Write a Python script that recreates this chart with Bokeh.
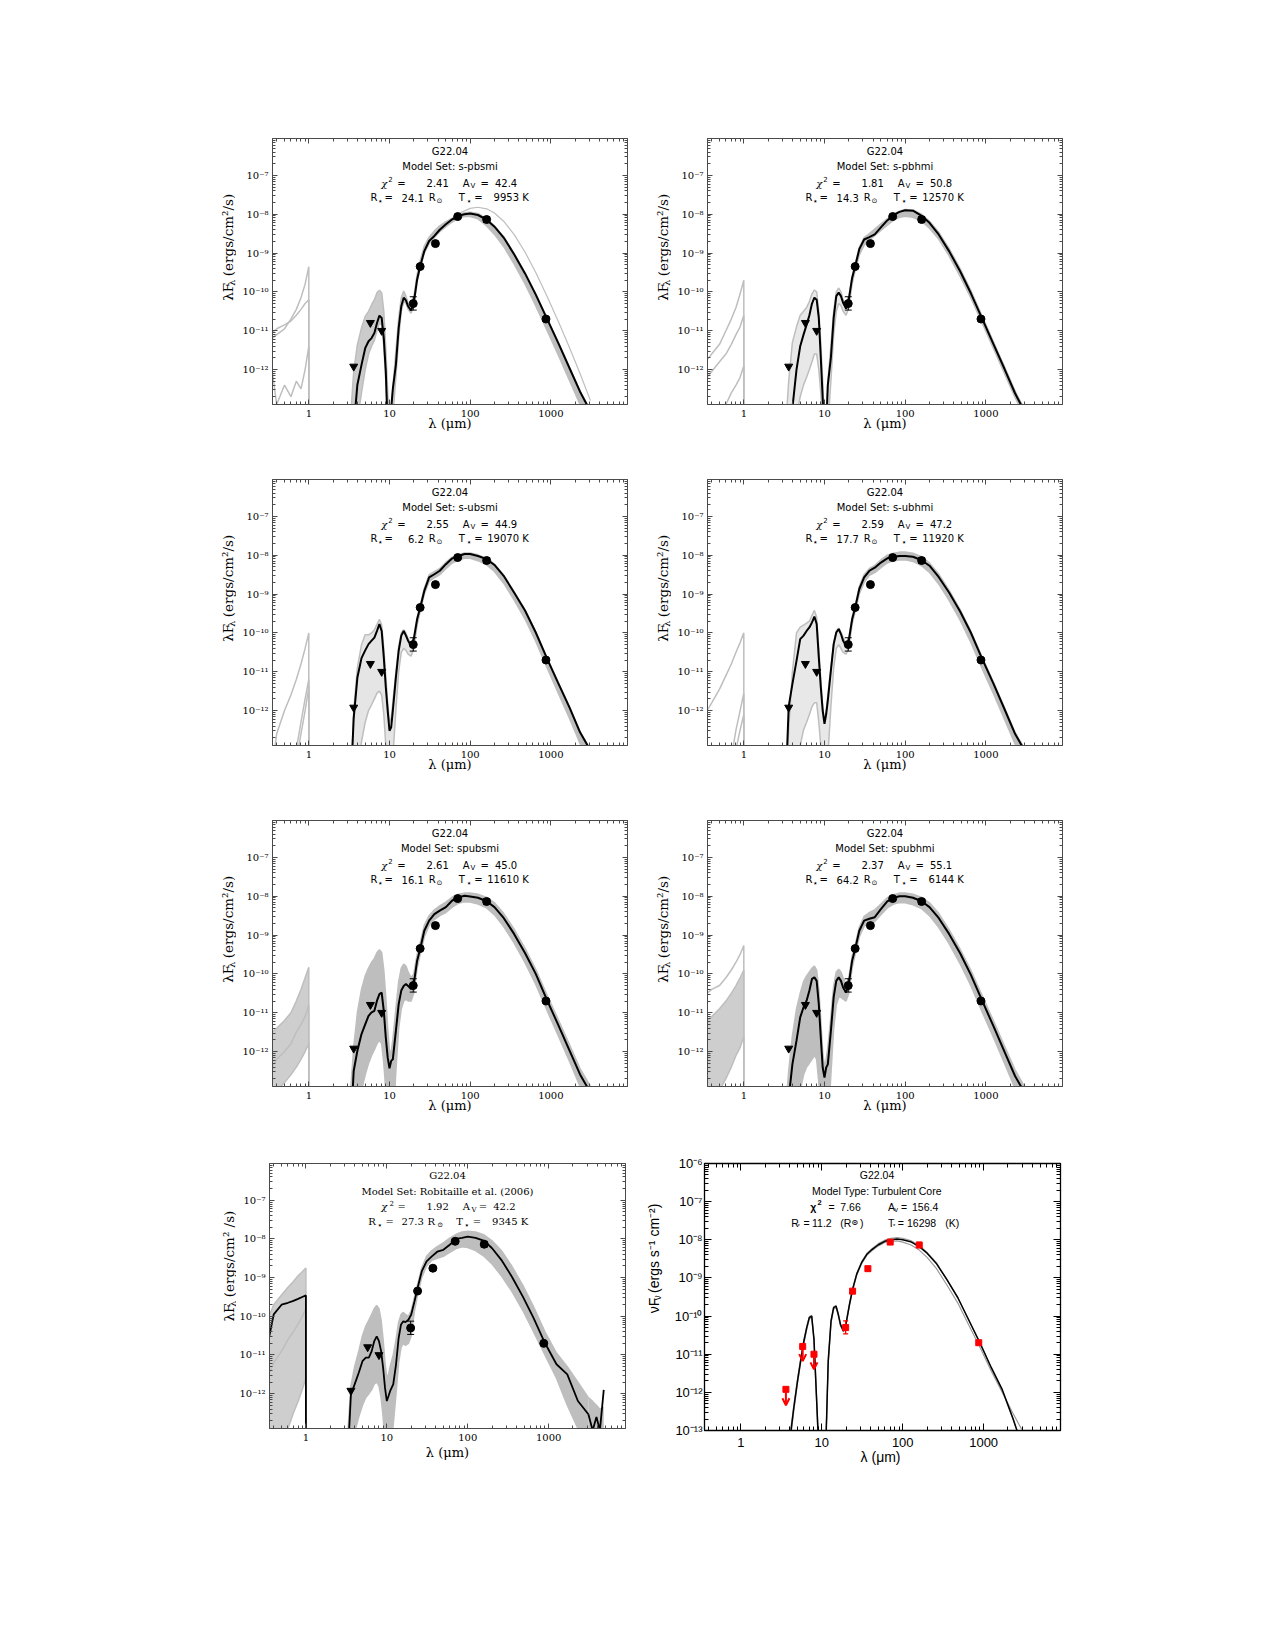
import math
from bokeh.plotting import figure
from bokeh.models import (Range1d, FixedTicker, CustomJSTickFormatter, LogAxis, Label,
                          ColumnDataSource, Arrow, OpenHead, Spacer)
from bokeh.layouts import row, column
from bokeh.embed import file_html
from bokeh.resources import INLINE

# ---------------- data (wavelengths in micron, fluxes as log10 lambda F_lambda) --------------
LAM = [3.3, 3.6, 4.0, 4.5, 5.0, 5.5, 6.0, 6.5, 7.0, 7.5, 8.0, 8.5, 9.0, 9.5, 10.0, 10.5, 11.0,
       12.0, 13.0, 14.0, 15.0, 16.0, 17.0, 18.5, 20.0, 22.0, 24.0, 27.0, 31.0, 36.0, 42.0, 50.0,
       60.0, 72.0, 85.0, 100.0, 125.0, 160.0, 200.0, 260.0, 350.0, 480.0, 650.0, 900.0, 1250.0,
       1700.0, 2300.0, 3100.0]
LAM_UV = [0.35, 0.4, 0.5, 0.6, 0.7, 0.8, 0.9, 1.0, 1.0]
LAM_FIR = [50, 72, 100, 125, 160, 200, 260, 350, 480, 650, 900, 1250, 1700, 2300, 3100]
LAM_TAIL = [3100, 3500, 3900, 4300, 4800]

UL_WAV = [3.6, 5.8, 8.0]
UL_FLUX = [1.2e-12, 1.6e-11, 1.0e-11]
UL_ARROW_TO = [4.6e-13, 6.6e-12, 4.0e-12]
DET_WAV = [19.7, 24.0, 37.1, 70.0, 160.0, 870.0]
DET_FLUX = [5.0e-11, 4.5e-10, 1.75e-9, 8.7e-9, 7.3e-9, 2.0e-11]
DET_LO = [3.4e-11, 4.1e-10, 1.55e-9, 8.0e-9, 6.2e-9, 1.8e-11]
DET_HI = [7.5e-11, 4.9e-10, 1.95e-9, 9.4e-9, 8.6e-9, 2.2e-11]

# panel 1 : s-pbsmi
P1_BEST = [-14, -13.5, -12.39, -11.88, -11.45, -11.27, -11.19, -11.06, -10.8, -10.61,
           -10.67, -11.19, -12.05, -13.5, -13.8, -13.0, -12.5, -11.88, -10.93, -10.37,
           -10.15, -10.22, -10.37, -10.48, -10.28, -9.68, -9.34, -8.95, -8.69, -8.56,
           -8.4, -8.26, -8.13, -8.04, -8.0, -7.98, -8.02, -8.14, -8.32, -8.6,
           -9.03, -9.53, -10.07, -10.7, -11.34, -11.96, -12.57, -13.08]
P1_HI = [-13.2, -12.05, -11.36, -10.93, -10.63, -10.5, -10.33, -10.2, -10.02, -9.96,
         -10.02, -10.5, -11.45, -12.56, -13.5, -13.0, -12.48, -11.53, -10.67, -10.15,
         -9.98, -10.11, -10.28, -10.41, -10.15, -9.55, -9.2, -8.82, -8.59, -8.43,
         -8.3, -8.19, -8.1, -8.02, -7.96, -7.95, -7.98, -8.12, -8.3, -8.58,
         -9.01, -9.51, -10.05, -10.68, -11.32, -11.94, -12.55, -13.06]
P1_LO = [-14, -14, -13.3, -12.6, -12.0, -11.6, -11.4, -11.25, -11.0, -10.8,
         -10.85, -11.4, -12.3, -13.5, -14, -14, -13.2, -12.2, -11.2, -10.5,
         -10.25, -10.3, -10.45, -10.55, -10.35, -9.75, -9.4, -9.0, -8.75, -8.6,
         -8.45, -8.32, -8.2, -8.1, -8.06, -8.06, -8.12, -8.3, -8.52, -8.83,
         -9.28, -9.8, -10.36, -11.0, -11.65, -12.28, -12.9, -13.4]
P1_EXTRA = [-8.22, -7.98, -7.85, -7.82, -7.86, -7.97, -8.18, -8.52, -8.98, -9.5, -10.12,
            -10.78, -11.43, -12.1, -12.8]
P1_UV_A = [-11.2, -11.1, -10.95, -10.7, -10.45, -10.15, -9.8, -9.35, -14]
P1_UV_B = [-11.05, -10.95, -10.85, -10.75, -10.6, -10.45, -10.3, -10.2, -14]
P1_UV_C = [-12.0, -12.9, -12.4, -12.7, -12.3, -12.5, -12.0, -11.4, -14]

# panel 2 : s-pbhmi
P2_BEST = [-14, -14, -13.0, -12.0, -11.4, -11.1, -10.85, -10.6, -10.3, -10.15,
           -10.2, -10.67, -11.7, -12.74, -13.8, -13.5, -12.4, -11.7, -10.67, -10.11,
           -10.02, -10.11, -10.28, -10.43, -10.2, -9.64, -9.34, -8.9, -8.65, -8.59,
           -8.52, -8.34, -8.16, -8.02, -7.94, -7.9, -7.91, -8.04, -8.22, -8.52,
           -8.95, -9.47, -10.03, -10.69, -11.36, -11.98, -12.61, -13.13]
P2_HI = [-13.5, -12.3, -11.3, -10.9, -10.6, -10.5, -10.4, -10.25, -10.05, -9.95,
         -10.0, -10.5, -11.3, -12.3, -13.5, -13.2, -12.3, -11.4, -10.5, -10.0,
         -9.9, -10.0, -10.2, -10.35, -10.15, -9.6, -9.28, -8.85, -8.6, -8.5,
         -8.38, -8.25, -8.12, -8.0, -7.92, -7.88, -7.89, -8.0, -8.18, -8.46,
         -8.88, -9.4, -9.96, -10.62, -11.3, -11.92, -12.55, -13.07]
P2_LO = [-14, -14, -13.8, -13.2, -12.7, -12.4, -12.2, -12.0, -11.8, -11.6,
         -11.6, -12.0, -12.6, -13.5, -14, -14, -13.5, -12.3, -11.1, -10.5,
         -10.3, -10.35, -10.5, -10.6, -10.4, -9.8, -9.45, -9.05, -8.8, -8.66,
         -8.55, -8.42, -8.28, -8.15, -8.08, -8.05, -8.08, -8.18, -8.36, -8.64,
         -9.07, -9.6, -10.15, -10.8, -11.47, -12.1, -12.72, -13.25]
P2_UV_A = [-11.75, -11.6, -11.35, -11.0, -10.7, -10.4, -10.05, -9.7, -14]
P2_UV_B = [-12.2, -12.05, -11.8, -11.6, -11.35, -11.1, -10.9, -10.6, -14]
P2_UV_C = [-14, -13.5, -13.0, -12.9, -12.6, -12.4, -12.2, -11.9, -14]

# panel 3 : s-ubsmi
P3_BEST = [-14, -12.2, -11.15, -10.65, -10.45, -10.29, -10.2, -10.12, -9.95, -9.77,
           -9.95, -10.63, -11.4, -12.0, -12.52, -12.43, -12.0, -11.15, -10.46, -10.07,
           -9.95, -10.07, -10.2, -10.33, -10.16, -9.65, -9.35, -8.92, -8.57, -8.49,
           -8.4, -8.23, -8.08, -8.02, -7.97, -7.97, -8.02, -8.1, -8.25, -8.53,
           -8.96, -9.43, -9.99, -10.67, -11.32, -11.92, -12.56, -13.03]
P3_HI = [-14, -12.0, -10.9, -10.3, -10.05, -10.05, -10.0, -9.92, -9.78, -9.65,
         -9.8, -10.4, -11.1, -11.8, -12.3, -12.2, -11.8, -11.0, -10.35, -10.0,
         -9.92, -10.0, -10.15, -10.28, -10.12, -9.6, -9.3, -8.85, -8.5, -8.42,
         -8.34, -8.18, -8.05, -7.98, -7.94, -7.94, -7.99, -8.08, -8.23, -8.51,
         -8.94, -9.41, -9.97, -10.65, -11.3, -11.9, -12.54, -13.01]
P3_LO = [-14, -14, -13.5, -12.8, -12.3, -12.0, -11.85, -11.7, -11.55, -11.5,
         -11.6, -12.1, -12.9, -13.5, -14, -14, -13.2, -12.0, -11.0, -10.5,
         -10.4, -10.45, -10.55, -10.6, -10.4, -9.8, -9.45, -9.0, -8.68, -8.58,
         -8.5, -8.35, -8.2, -8.12, -8.08, -8.08, -8.14, -8.25, -8.42, -8.72,
         -9.15, -9.65, -10.22, -10.9, -11.58, -12.2, -12.85, -13.35]
P3_UV_A = [-13.5, -12.6, -12.0, -11.6, -11.2, -10.8, -10.4, -10.0, -14]
P3_UV_B = [-14, -14, -14, -14, -13.0, -12.3, -11.7, -11.2, -14]
P3_UV_C = [-14, -14, -14, -14, -13.3, -12.6, -12.0, -11.4, -14]

# panel 4 : s-ubhmi
P4_BEST = [-14, -11.9, -11.32, -10.72, -10.16, -10.07, -9.95, -9.86, -9.73, -9.58,
           -9.77, -10.63, -11.4, -12.0, -12.34, -12.09, -11.74, -10.97, -10.29, -9.99,
           -9.9, -10.03, -10.2, -10.33, -10.2, -9.65, -9.35, -8.87, -8.57, -8.4,
           -8.32, -8.19, -8.08, -8.04, -8.02, -8.02, -8.04, -8.13, -8.27, -8.56,
           -8.96, -9.45, -9.99, -10.67, -11.32, -11.96, -12.6, -13.07]
P4_HI = [-14, -12.5, -11.0, -10.0, -9.85, -9.8, -9.75, -9.7, -9.55, -9.42,
         -9.6, -10.4, -11.2, -11.9, -12.3, -12.0, -11.6, -10.9, -10.25, -9.95,
         -9.88, -9.98, -10.12, -10.25, -10.12, -9.6, -9.3, -8.8, -8.5, -8.34,
         -8.26, -8.12, -8.0, -7.95, -7.92, -7.92, -7.95, -8.04, -8.2, -8.48,
         -8.9, -9.4, -9.95, -10.62, -11.28, -11.92, -12.56, -13.02]
P4_LO = [-14, -14, -14, -13.4, -12.9, -12.5, -12.3, -12.1, -11.9, -11.8,
         -11.8, -12.3, -12.9, -13.5, -14, -14, -13.2, -11.9, -10.9, -10.4,
         -10.3, -10.4, -10.5, -10.55, -10.38, -9.78, -9.45, -9.0, -8.7, -8.52,
         -8.45, -8.32, -8.2, -8.14, -8.12, -8.12, -8.16, -8.27, -8.44, -8.74,
         -9.16, -9.67, -10.24, -10.92, -11.58, -12.22, -12.86, -13.35]
P4_UV_A = [-12.0, -11.8, -11.45, -11.1, -10.8, -10.5, -10.25, -10.0, -14]
P4_UV_B = [-14, -14, -14, -14, -13.2, -12.5, -12.0, -11.55, -14]
P4_UV_C = [-14, -14, -14, -14, -13.6, -13.0, -12.5, -12.1, -14]

# panel 5 : spubsmi
P5_BEST = [-14, -12.5, -11.98, -11.55, -11.3, -11.08, -10.99, -10.95, -10.69, -10.52,
           -10.48, -10.95, -11.64, -12.15, -12.43, -12.24, -12.2, -11.47, -10.78, -10.43,
           -10.31, -10.26, -10.31, -10.39, -10.26, -9.66, -9.36, -8.89, -8.63, -8.46,
           -8.37, -8.28, -8.11, -8.03, -7.99, -8.01, -8.04, -8.13, -8.28, -8.56,
           -8.97, -9.47, -10.0, -10.68, -11.34, -11.97, -12.59, -13.06]
P5_HI = [-13.0, -11.9, -11.0, -10.4, -10.05, -9.85, -9.7, -9.6, -9.45, -9.38,
         -9.45, -9.9, -10.6, -11.4, -12.0, -12.0, -11.7, -10.9, -10.2, -9.85,
         -9.75, -9.8, -9.95, -10.1, -10.0, -9.5, -9.2, -8.75, -8.5, -8.35,
         -8.25, -8.15, -8.02, -7.95, -7.92, -7.92, -7.95, -8.03, -8.17, -8.44,
         -8.85, -9.35, -9.88, -10.55, -11.2, -11.82, -12.44, -12.9]
P5_LO = [-14, -14, -13.6, -13.0, -12.6, -12.3, -12.1, -11.95, -11.8, -11.7,
         -11.8, -12.3, -13.0, -14, -14, -14, -14, -12.5, -11.4, -10.9,
         -10.7, -10.65, -10.7, -10.7, -10.5, -9.85, -9.5, -9.05, -8.75, -8.6,
         -8.5, -8.42, -8.28, -8.18, -8.14, -8.15, -8.2, -8.3, -8.48, -8.78,
         -9.2, -9.72, -10.27, -10.95, -11.62, -12.25, -12.9, -13.4]
P5_UV_A = [-11.5, -11.4, -11.2, -11.0, -10.7, -10.4, -10.1, -9.83, -14]
P5_UV_B = [-12.4, -12.2, -12.0, -11.8, -11.5, -11.3, -11.1, -10.8, -14]
P5_UV_C = [-13.2, -13.0, -12.8, -12.6, -12.4, -12.2, -12.0, -11.8, -14]

# panel 6 : spubhmi
P6_BEST = [-14, -13.2, -12.33, -11.72, -11.12, -10.86, -10.69, -10.43, -10.13, -10.09,
           -10.18, -10.78, -11.64, -12.41, -12.67, -12.41, -12.33, -11.47, -10.6, -10.18,
           -10.09, -10.18, -10.35, -10.48, -10.26, -9.66, -9.36, -8.89, -8.63, -8.58,
           -8.54, -8.33, -8.13, -8.04, -8.0, -8.0, -8.04, -8.13, -8.28, -8.56,
           -8.97, -9.47, -10.02, -10.69, -11.36, -12.0, -12.63, -13.1]
P6_HI = [-13.5, -12.5, -11.6, -10.9, -10.5, -10.2, -10.05, -9.95, -9.85, -9.8,
         -9.9, -10.4, -11.2, -12.0, -12.4, -12.2, -11.9, -11.1, -10.3, -9.95,
         -9.88, -9.95, -10.1, -10.25, -10.1, -9.55, -9.25, -8.8, -8.52, -8.42,
         -8.35, -8.2, -8.04, -7.96, -7.92, -7.92, -7.95, -8.03, -8.17, -8.44,
         -8.86, -9.36, -9.9, -10.56, -11.22, -11.85, -12.47, -12.95]
P6_LO = [-14, -14, -14, -13.5, -13.0, -12.6, -12.4, -12.3, -12.2, -12.1,
         -12.2, -12.8, -13.5, -14, -14, -14, -14, -12.6, -11.4, -10.8,
         -10.6, -10.6, -10.65, -10.7, -10.5, -9.85, -9.5, -9.05, -8.77, -8.7,
         -8.65, -8.48, -8.3, -8.2, -8.16, -8.17, -8.22, -8.32, -8.5, -8.8,
         -9.22, -9.74, -10.3, -10.98, -11.65, -12.3, -12.95, -13.45]
P6_UV_A = [-10.5, -10.4, -10.3, -10.1, -9.9, -9.7, -9.5, -9.27, -14]
P6_UV_B = [-11.2, -11.1, -10.9, -10.7, -10.5, -10.3, -10.1, -9.9, -14]
P6_UV_C = [-14, -13.5, -13.0, -12.7, -12.4, -12.1, -11.9, -11.6, -14]

# panel 7 : Robitaille et al. (2006)
P7_BEST = [-13.6, -12.02, -11.76, -11.46, -11.16, -11.07, -11.07, -10.9, -10.64, -10.52,
           -10.64, -10.9, -11.33, -11.85, -12.19, -12.06, -11.93, -11.76, -11.24, -10.56,
           -10.21, -10.13, -10.15, -10.09, -9.96, -9.61, -9.27, -8.84, -8.58, -8.45,
           -8.33, -8.28, -8.15, -8.0, -7.97, -7.94, -7.97, -8.05, -8.24, -8.54,
           -8.97, -9.49, -10.04, -10.69, -11.24, -11.5, -12.19, -12.53]
P7_HI = [-13.0, -11.8, -11.3, -10.9, -10.5, -10.25, -10.1, -9.95, -9.8, -9.72,
         -9.8, -10.1, -10.6, -11.2, -11.6, -11.5, -11.3, -11.0, -10.6, -10.15,
         -9.95, -9.9, -9.95, -10.0, -9.85, -9.5, -9.17, -8.75, -8.45, -8.3,
         -8.2, -8.1, -7.98, -7.88, -7.82, -7.8, -7.82, -7.9, -8.05, -8.3,
         -8.7, -9.2, -9.75, -10.4, -10.95, -11.3, -11.7, -12.1]
P7_LO = [-14, -14, -13.0, -12.6, -12.3, -12.1, -12.0, -11.9, -11.75, -11.7,
         -11.8, -12.1, -12.6, -13.3, -14, -14, -13.6, -12.8, -12.0, -11.2,
         -10.8, -10.7, -10.75, -10.7, -10.5, -9.85, -9.45, -9.0, -8.7, -8.55,
         -8.5, -8.45, -8.35, -8.25, -8.2, -8.22, -8.3, -8.45, -8.65, -8.95,
         -9.35, -9.85, -10.4, -11.0, -11.6, -12.3, -12.9, -13.5]
P7_UV_BEST = [-10.55, -9.95, -9.7, -9.65, -9.6, -9.55, -9.5, -9.46, -14]
P7_UV_A = [-10.0, -9.7, -9.45, -9.25, -9.1, -8.95, -8.85, -8.75, -14]
P7_UV_B = [-11.5, -11.2, -10.9, -10.6, -10.4, -10.2, -10.0, -9.8, -14]
P7_UV_C = [-14, -13.8, -13.3, -12.9, -12.5, -12.2, -11.9, -11.6, -14]
P7_TAIL_BEST = [-12.53, -12.95, -12.6, -12.95, -11.9]
P7_TAIL_HI = [-12.1, -12.2, -12.3, -12.4, -12.35]
P7_TAIL_LO = [-13.5, -14, -14, -14, -14]

# panel 8 : turbulent core model
P8_BEST = [-14, -14, -13.3, -12.41, -11.71, -11.14, -10.66, -10.31, -10.04, -10.0,
           -10.61, -11.89, -13.1, -14, -14, -14, -14, -11.18, -10.13, -9.78,
           -9.74, -9.96, -10.22, -10.39, -10.18, -9.69, -9.3, -8.9, -8.6, -8.38,
           -8.25, -8.13, -8.04, -8.0, -7.98, -8.0, -8.05, -8.18, -8.35, -8.62,
           -9.04, -9.52, -10.09, -10.7, -11.36, -11.93, -12.68, -13.5]
P8_HI = [-14, -14, -13.2, -12.35, -11.66, -11.1, -10.62, -10.28, -10.02, -9.98,
         -10.58, -11.85, -13.0, -14, -14, -14, -14, -11.15, -10.1, -9.76,
         -9.72, -9.94, -10.2, -10.37, -10.16, -9.67, -9.28, -8.88, -8.58, -8.36,
         -8.23, -8.1, -8.01, -7.96, -7.94, -7.96, -8.02, -8.15, -8.33, -8.6,
         -9.03, -9.52, -10.09, -10.72, -11.38, -11.95, -12.7, -13.5]
P8_LO = [-14, -14, -13.4, -12.5, -11.78, -11.2, -10.72, -10.36, -10.08, -10.04,
         -10.66, -11.95, -13.2, -14, -14, -14, -14, -11.25, -10.18, -9.82,
         -9.78, -10.0, -10.26, -10.42, -10.21, -9.72, -9.33, -8.93, -8.63, -8.41,
         -8.28, -8.16, -8.07, -8.04, -8.03, -8.06, -8.13, -8.27, -8.46, -8.75,
         -9.18, -9.66, -10.22, -10.82, -11.45, -12.0, -12.55, -13.05]

TITLE = "G22.04"
MODEL_SETS = ["s-pbsmi", "s-pbhmi", "s-ubsmi", "s-ubhmi", "spubsmi", "spubhmi",
              "Robitaille et al. (2006)"]
CHI2 = ["2.41", "1.81", "2.55", "2.59", "2.61", "2.37", "1.92"]
AV = ["42.4", "50.8", "44.9", "47.2", "45.0", "55.1", "42.2"]
RSTAR = ["24.1", "14.3", "6.2", "17.7", "16.1", "64.2", "27.3"]
TSTAR = ["9953", "12570", "19070", "11920", "11610", "6144", "9345"]
TC_MODEL = "Turbulent Core"
TC_CHI2 = "7.66"
TC_AV = "156.4"
TC_R = "11.2"
TC_T = "16298"

for arr in [P1_BEST, P1_HI, P1_LO, P2_BEST, P2_HI, P2_LO, P3_BEST, P3_HI, P3_LO,
            P4_BEST, P4_HI, P4_LO, P5_BEST, P5_HI, P5_LO, P6_BEST, P6_HI, P6_LO,
            P7_BEST, P7_HI, P7_LO, P8_BEST, P8_HI, P8_LO]:
    assert len(arr) == len(LAM), len(arr)

# ---------------- styling helpers ----------------
GRAY = "#bebebe"
FRAME = "#4a4a4a"
SERIF = "DejaVu Serif"
SANS = "DejaVu Sans"
IDL = "Liberation Sans"
ROW_H = 341


def lin(vals):
    return [10.0 ** v for v in vals]


def yfmt():
    return CustomJSTickFormatter(code="""
const m = {'-':'\u207b','0':'\u2070','1':'\u00b9','2':'\u00b2','3':'\u00b3','4':'\u2074',
           '5':'\u2075','6':'\u2076','7':'\u2077','8':'\u2078','9':'\u2079'};
const e = Math.round(Math.log10(tick));
let s = '';
for (const c of String(e)) { s += m[c]; }
return '10' + s;
""")


def xfmt():
    return CustomJSTickFormatter(code="return String(Math.round(tick));")


def blank():
    return CustomJSTickFormatter(code="return '';")


def xticker():
    return FixedTicker(ticks=[1, 10, 100, 1000],
                       minor_ticks=[m * 10.0 ** k for k in range(-1, 4) for m in range(2, 10)])


def yticker():
    return FixedTicker(ticks=[10.0 ** k for k in range(-13, -5)],
                       minor_ticks=[m * 10.0 ** k for k in range(-14, -5) for m in range(2, 10)])


def lab(p, x, y, text, size, font, align="left", angle=0.0, style="normal", units="screen"):
    p.add_layout(Label(x=x, y=y, x_units=units, y_units=units, text=text,
                       text_font_size=f"{size}px", text_font=font, text_align=align,
                       text_baseline="middle", angle=angle, text_color="black",
                       text_font_style=style))


def make_fig(ml, mr, mt, mb, fw, fh, ylo, yhi, idl=False, xlab_standoff=-5):
    p = figure(x_axis_type="log", y_axis_type="log",
               x_range=Range1d(10 ** -0.45, 10 ** 3.95), y_range=Range1d(10 ** ylo, 10 ** yhi),
               frame_width=fw, frame_height=fh, min_border_left=ml, min_border_right=mr,
               min_border_top=mt, min_border_bottom=mb, toolbar_location=None,
               output_backend="svg", background_fill_color="white", border_fill_color="white")
    p.xgrid.visible = False
    p.ygrid.visible = False
    col = "black" if idl else FRAME
    p.outline_line_color = col
    p.outline_line_width = 1.3 if idl else 1
    mj, mn = (7, 4) if idl else (5, 3)
    font = IDL if idl else SERIF
    fsize = "13px" if idl else "10px"
    for ax, tk, fm in [(p.xaxis[0], xticker(), xfmt()), (p.yaxis[0], yticker(), yfmt())]:
        ax.ticker = tk
        ax.formatter = fm
        ax.major_tick_in = mj
        ax.major_tick_out = 0
        ax.minor_tick_in = mn
        ax.minor_tick_out = 0
        ax.axis_line_color = col
        ax.major_tick_line_color = col
        ax.minor_tick_line_color = col
        ax.major_label_text_font = font
        ax.major_label_text_font_size = fsize
        ax.major_label_text_color = "black"
    xa = p.xaxis[0]
    xa.axis_label = "λ  (μm)" if idl else "λ (μm)"
    xa.axis_label_text_font = font
    xa.axis_label_text_font_size = "14px" if idl else "13px"
    xa.axis_label_text_font_style = "normal"
    xa.axis_label_text_color = "black"
    xa.axis_label_standoff = xlab_standoff
    xa.major_label_standoff = 7 if idl else 5
    p.yaxis[0].major_label_standoff = 2 if idl else 4
    for loc, tkf in [("above", xticker), ("right", yticker)]:
        ax = LogAxis(ticker=tkf(), formatter=blank(), major_tick_in=mj, major_tick_out=0,
                     minor_tick_in=mn, minor_tick_out=0, axis_line_color=col,
                     major_tick_line_color=col, minor_tick_line_color=col,
                     major_label_text_font_size="0px", major_label_standoff=0)
        p.add_layout(ax, loc)
    return p


def ylabel_fig(w, x, y0, font, size, subsize, lead, sub, rest, d_sub, d_rest, dx_sub):
    f = figure(width=w, height=ROW_H, min_border=0, x_range=Range1d(0, w),
               y_range=Range1d(0, ROW_H), toolbar_location=None, output_backend="svg",
               x_axis_location=None, y_axis_location=None, outline_line_color=None,
               background_fill_color="white", border_fill_color="white")
    f.xgrid.visible = False
    f.ygrid.visible = False
    a = math.pi / 2
    lab(f, x, y0, lead, size, font, angle=a, units="data")
    lab(f, x + dx_sub, y0 + d_sub, sub, subsize, font, angle=a, units="data")
    lab(f, x, y0 + d_rest, rest, size, font, angle=a, units="data")
    return f


def draw_models(p, best, hi, lo, fan_alpha, uv_lines, uv_fill, gray=GRAY):
    p.varea(x=LAM[:25], y1=lin(lo[:25]), y2=lin(hi[:25]), fill_color=gray, fill_alpha=fan_alpha)
    p.varea(x=LAM[24:], y1=lin(lo[24:]), y2=lin(hi[24:]), fill_color=gray, fill_alpha=1.0)
    p.line(LAM, lin(hi), line_color=gray, line_width=1.5)
    p.line(LAM, lin(lo), line_color=gray, line_width=1.5)
    if uv_fill is not None:
        p.varea(x=LAM_UV, y1=lin(uv_fill[1]), y2=lin(uv_fill[0]), fill_color=gray,
                fill_alpha=0.75)
    for u in uv_lines:
        p.line(LAM_UV, lin(u), line_color=gray, line_width=1.5)


def draw_best(p, best, w=2.0):
    p.line(LAM, lin(best), line_color="black", line_width=w)


def draw_points(p):
    p.segment(x0=DET_WAV, y0=DET_LO, x1=DET_WAV, y1=DET_HI, line_color="black", line_width=1)
    p.scatter(DET_WAV, DET_LO, marker="dash", size=7, line_color="black", line_width=1)
    p.scatter(DET_WAV, DET_HI, marker="dash", size=7, line_color="black", line_width=1)
    p.scatter(DET_WAV, DET_FLUX, marker="circle", size=8, fill_color="black",
              line_color="black")
    p.scatter(UL_WAV, UL_FLUX, marker="inverted_triangle", size=8, fill_color="black",
              line_color="black")


def rob_text(p, fw, fh, i, font, serif_panel=False):
    cx = fw / 2.0
    sz = 10
    if serif_panel:
        ys = [fh - 12.3, fh - 28.0, fh - 43.3, fh - 58.3]
        l3 = [(-66.3, "χ", "i"), (-58.0, "2", "sup"), (-50.0, "=", "n"), (1.3, CHI2[i], "r"),
              (15.3, "A", "n"), (24.0, "V", "sub"), (31.3, "=", "n"), (68.0, AV[i], "r")]
        l4 = [(-79.3, "R", "n"), (-70.3, "⋆", "sub"), (-62.0, "=", "n"), (-23.7, RSTAR[i], "r"),
              (-20.0, "R", "n"), (-10.3, "⊙", "sub"), (8.7, "T", "n"), (16.3, "⋆", "sub"),
              (25.3, "=", "n"), (80.7, TSTAR[i] + " K", "r")]
    else:
        ys = [fh - 12.7, fh - 28.4, fh - 44.7, fh - 59.3]
        l3 = [(-68.8, "χ", "i"), (-61.8, "2", "sup"), (-52.8, "=", "n"), (-1.2, CHI2[i], "r"),
              (12.8, "A", "n"), (20.5, "V", "sub"), (30.5, "=", "n"), (67.2, AV[i], "r")]
        l4 = [(-79.5, "R", "n"), (-72.6, "⋆", "sub"), (-65.6, "=", "n"), (-26.2, RSTAR[i], "r"),
              (-21.2, "R", "n"), (-13.5, "⊙", "sub"), (8.8, "T", "n"), (16.2, "⋆", "sub"),
              (24.3, "=", "n"), (78.8, TSTAR[i] + " K", "r")]
    lab(p, cx, ys[0], TITLE, sz, font, align="center")
    lab(p, cx, ys[1], "Model Set: " + MODEL_SETS[i], sz, font, align="center")
    for y, pieces in [(ys[2], l3), (ys[3], l4)]:
        for dx, t, kind in pieces:
            if kind == "n":
                lab(p, cx + dx, y, t, sz, font)
            elif kind == "r":
                lab(p, cx + dx, y, t, sz, font, align="right")
            elif kind == "i":
                lab(p, cx + dx, y, t, sz, SERIF, style="italic")
            elif kind == "sup":
                lab(p, cx + dx, y + 4, t, 7, font)
            elif kind == "sub":
                sz_sub = 9 if t == "⋆" else 7
                lab(p, cx + dx, y - 3, t, sz_sub, font)


# ---------------- panels 1-6 ----------------
FW, FH = 355, 266
specs = [
    (P1_BEST, P1_HI, P1_LO, 0.8, [P1_UV_A, P1_UV_B, P1_UV_C], None),
    (P2_BEST, P2_HI, P2_LO, 0.35, [P2_UV_A, P2_UV_B, P2_UV_C], None),
    (P3_BEST, P3_HI, P3_LO, 0.4, [P3_UV_A, P3_UV_B, P3_UV_C], None),
    (P4_BEST, P4_HI, P4_LO, 0.35, [P4_UV_A, P4_UV_B, P4_UV_C], None),
    (P5_BEST, P5_HI, P5_LO, 1.0, [P5_UV_A, P5_UV_B, P5_UV_C], (P5_UV_A, P5_UV_C)),
    (P6_BEST, P6_HI, P6_LO, 1.0, [P6_UV_A, P6_UV_B, P6_UV_C], (P6_UV_B, P6_UV_C)),
]
blocks = []
for i, (best, hi, lo, fa, uvl, uvf) in enumerate(specs):
    p = make_fig(36, 8, 10, 65, FW, FH, -12.9, -6.05, xlab_standoff=-4)
    draw_models(p, best, hi, lo, fa, uvl, uvf)
    if i == 0:
        p.line(LAM_FIR, lin(P1_EXTRA), line_color=GRAY, line_width=1.2)
    draw_best(p, best)
    draw_points(p)
    rob_text(p, FW, FH, i, SANS)
    lf = ylabel_fig(36, 27.7, 65 + 68.0, SERIF, 13.5, 10, "λF", "λ", "(ergs/cm²/s)",
                    19.0, 31.5, 3.2)
    blocks.append([lf, p])

# ---------------- panel 7 ----------------
p7 = make_fig(33, 10, 12, 64, 356, 265, -12.9, -6.05, xlab_standoff=1)
draw_models(p7, P7_BEST, P7_HI, P7_LO, 1.0, [P7_UV_A, P7_UV_B, P7_UV_C], (P7_UV_A, P7_UV_C))
p7.varea(x=LAM_TAIL, y1=lin(P7_TAIL_LO), y2=lin(P7_TAIL_HI), fill_color=GRAY, fill_alpha=1.0)
p7.line(LAM_TAIL, lin(P7_TAIL_HI), line_color=GRAY, line_width=1.5)
draw_best(p7, P7_BEST, w=1.8)
p7.line(LAM_TAIL, lin(P7_TAIL_BEST), line_color="black", line_width=1.8)
p7.line(LAM_UV, lin(P7_UV_BEST), line_color="black", line_width=1.8)
draw_points(p7)
rob_text(p7, 356, 265, 6, SERIF, serif_panel=True)
lf7 = ylabel_fig(36, 28.3, 64 + 72.0, SERIF, 13.5, 10, "λF", "λ", "(ergs/cm² /s)",
                 19.0, 31.5, 3.2)
blocks.append([lf7, p7])

# ---------------- panel 8 ----------------
FW8, FH8 = 356, 267
p8 = make_fig(39, 10, 8, 66, FW8, FH8, -13.0, -6.0, idl=True, xlab_standoff=-1)
G8 = "#9a9a9a"
p8.line(LAM, lin(P8_HI), line_color=G8, line_width=1.2)
p8.line(LAM, lin(P8_LO), line_color=G8, line_width=1.2)
p8.line(LAM, lin(P8_BEST), line_color="black", line_width=1.5)
p8.segment(x0=DET_WAV, y0=DET_LO, x1=DET_WAV, y1=DET_HI, line_color="red", line_width=1.3)
p8.scatter(DET_WAV, DET_LO, marker="dash", size=5, line_color="red", line_width=1.3)
p8.scatter(DET_WAV, DET_HI, marker="dash", size=5, line_color="red", line_width=1.3)
p8.scatter(DET_WAV, DET_FLUX, marker="square", size=6, fill_color="red", line_color="red")
p8.scatter(UL_WAV, UL_FLUX, marker="square", size=6, fill_color="red", line_color="red")
arr_src = ColumnDataSource(dict(x0=UL_WAV, y0=UL_FLUX, x1=UL_WAV, y1=UL_ARROW_TO))
p8.add_layout(Arrow(end=OpenHead(size=7, line_color="red", line_width=2),
                    x_start="x0", y_start="y0", x_end="x1", y_end="y1",
                    line_color="red", line_width=2, source=arr_src))
cx8 = FW8 / 2.0
s8 = 10.5
ys8 = [FH8 - 11.7, FH8 - 27.4, FH8 - 43.4, FH8 - 59.7]
lab(p8, cx8 - 5.5, ys8[0], TITLE, s8, IDL, align="center")
lab(p8, cx8 - 5.5, ys8[1], "Model Type: " + TC_MODEL, s8, IDL, align="center")
lab(p8, cx8 - 72.2, ys8[2], "χ", s8, IDL, style="bold")
lab(p8, cx8 - 64.9, ys8[2] + 4, "2", 7.5, IDL, style="bold")
lab(p8, cx8 - 53.9, ys8[2], "=", s8, IDL)
lab(p8, cx8 - 42.2, ys8[2], TC_CHI2, s8, IDL)
lab(p8, cx8 + 5.5, ys8[2], "A", s8, IDL)
lab(p8, cx8 + 11.8, ys8[2] - 3, "v", 7.5, IDL)
lab(p8, cx8 + 18.5, ys8[2], "=", s8, IDL)
lab(p8, cx8 + 29.5, ys8[2], TC_AV, s8, IDL)
lab(p8, cx8 - 91.2, ys8[3], "R", s8, IDL)
lab(p8, cx8 - 84.9, ys8[3] - 3, "*", 6, IDL)
lab(p8, cx8 - 78.9, ys8[3], "=", s8, IDL)
lab(p8, cx8 - 70.5, ys8[3], TC_R, s8, IDL)
lab(p8, cx8 - 42.2, ys8[3], "(R", s8, IDL)
lab(p8, cx8 - 31.0, ys8[3] + 1, "⊙", 8, SANS, style="bold")
lab(p8, cx8 - 22.5, ys8[3], ")", s8, IDL)
lab(p8, cx8 + 5.5, ys8[3], "T", s8, IDL)
lab(p8, cx8 + 10.6, ys8[3] - 3, "*", 6, IDL)
lab(p8, cx8 + 15.3, ys8[3], "=", s8, IDL)
lab(p8, cx8 + 24.5, ys8[3], TC_T, s8, IDL)
lab(p8, cx8 + 62.8, ys8[3], "(K)", s8, IDL)
lf8 = ylabel_fig(30, 18, 66 + 80.7, IDL, 14, 10, "νF", "ν", "(ergs s⁻¹ cm⁻²)",
                 17.0, 26.5, 3.5)
blocks.append([lf8, p8])

# ---------------- layout ----------------
rows = [Spacer(width=10, height=128)]
for r in range(4):
    a_blk, b_blk = blocks[2 * r], blocks[2 * r + 1]
    rows.append(row(Spacer(width=200, height=ROW_H), a_blk[0], a_blk[1], b_blk[0], b_blk[1]))
layout = column(*rows)

with open("out.html", "w", encoding="utf-8") as f:
    f.write(file_html(layout, INLINE))
